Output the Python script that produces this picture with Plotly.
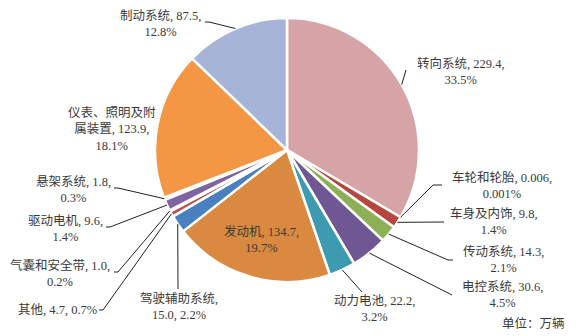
import math
import plotly.graph_objects as go

# ---------------- data ----------------
categories = ["转向系统", "车轮和轮胎", "车身及内饰", "传动系统", "电控系统", "动力电池",
              "发动机", "驾驶辅助系统", "其他", "气囊和安全带", "驱动电机", "悬架系统",
              "仪表、照明及附属装置", "制动系统"]
values = [229.4, 0.006, 9.8, 14.3, 30.6, 22.2, 134.7, 15.0, 4.7, 1.0, 9.6, 1.8, 123.9, 87.5]
value_labels = ["229.4", "0.006", "9.8", "14.3", "30.6", "22.2", "134.7", "15.0", "4.7",
                "1.0", "9.6", "1.8", "123.9", "87.5"]
pct_labels = ["33.5%", "0.001%", "1.4%", "2.1%", "4.5%", "3.2%", "19.7%", "2.2%", "0.7%",
              "0.2%", "1.4%", "0.3%", "18.1%", "12.8%"]
unit_label = "单位：万辆"

# ---------------- style / layout ----------------
W, H = 576, 336
colors = ["#D6A4A6", "#4F81BD", "#B5473F", "#8DB057", "#6F5793", "#3D9BB1",
          "#D98A40", "#4A7FC0", "#C0504D", "#9BBB59", "#8064A2", "#4BACC6",
          "#F39744", "#A6B4D7"]
CX, CY, R = 287, 150, 132
FONT = "Liberation Serif, Times New Roman, Noto Sans CJK SC, serif"
TXT = "#3a3a3a"

# label templates: (text-center x, y in px, line break pattern, leader points after edge)
label_specs = {
    "转向系统": (461, 71, "{n}, {v},<br>{p}", [(406, 70)]),
    "车轮和轮胎": (502, 185, "{n}, {v},<br>{p}", [(433, 185), (442, 185)]),
    "车身及内饰": (494, 221, "{n}, {v},<br>{p}", [(444, 222)]),
    "传动系统": (503, 259, "{n}, {v},<br>{p}", [(448, 260), (453, 260)]),
    "电控系统": (502, 295, "{n}, {v},<br>{p}", [(452, 295)]),
    "动力电池": (374, 309, "{n}, {v},<br>{p}", [(362, 292)]),
    "发动机": (261, 239, "{n}, {v},<br>{p}", None),
    "驾驶辅助系统": (179, 306, "{n},<br>{v}, {p}", [(178, 289)]),
    "其他": (57, 310, "{n}, {v}, {p}", [(103, 310), (99, 310)]),
    "气囊和安全带": (60, 273, "{n}, {v},<br>{p}", [(118, 272), (114, 272)]),
    "驱动电机": (65, 229, "{n}, {v},<br>{p}", [(110, 227), (106, 227)]),
    "悬架系统": (73, 190, "{n}, {v},<br>{p}", [(118, 188), (114, 188)]),
    "仪表、照明及附属装置": (112, 129, "仪表、照明及附<br>属装置, {v},<br>{p}", None),
    "制动系统": (160, 24, "{n}, {v},<br>{p}", [(209, 22), (205, 22)]),
}


def px(x):
    return x / W


def py(y):
    return 1 - y / H


fig = go.Figure(go.Pie(
    labels=categories, values=values, sort=False, direction="clockwise", rotation=0,
    marker=dict(colors=colors, line=dict(color="white", width=2.5)),
    textinfo="none", hoverinfo="label+value+percent",
    domain=dict(x=[px(CX - R), px(CX + R)], y=[py(CY + R), py(CY - R)]),
    showlegend=False,
))

total = sum(values)
cum = 0.0
shapes, annotations = [], []
for name, v, vl, pl in zip(categories, values, value_labels, pct_labels):
    mid = (cum + v / 2) / total * 2 * math.pi
    cum += v
    tx, ty, tpl, pts = label_specs[name]
    text = tpl.format(n=name, v=vl, p=pl)
    annotations.append(dict(x=px(tx), y=py(ty), xref="paper", yref="paper", text=text,
                            showarrow=False, xanchor="center", yanchor="middle",
                            align="center", font=dict(family=FONT, size=12.5, color=TXT)))
    if pts:
        ex, ey = CX + R * math.sin(mid), CY - R * math.cos(mid)
        path = "M {} {}".format(px(ex), py(ey))
        for (x, y) in pts:
            path += " L {} {}".format(px(x), py(y))
        shapes.append(dict(type="path", path=path, xref="paper", yref="paper",
                           line=dict(color="#222222", width=1)))

annotations.append(dict(x=px(567), y=py(323), xref="paper", yref="paper", text=unit_label,
                        showarrow=False, xanchor="right", yanchor="middle",
                        font=dict(family=FONT, size=12.5, color=TXT)))

fig.update_layout(width=W, height=H, margin=dict(l=0, r=0, t=0, b=0),
                  paper_bgcolor="white", plot_bgcolor="white",
                  shapes=shapes, annotations=annotations)
fig.write_html("out.html")
